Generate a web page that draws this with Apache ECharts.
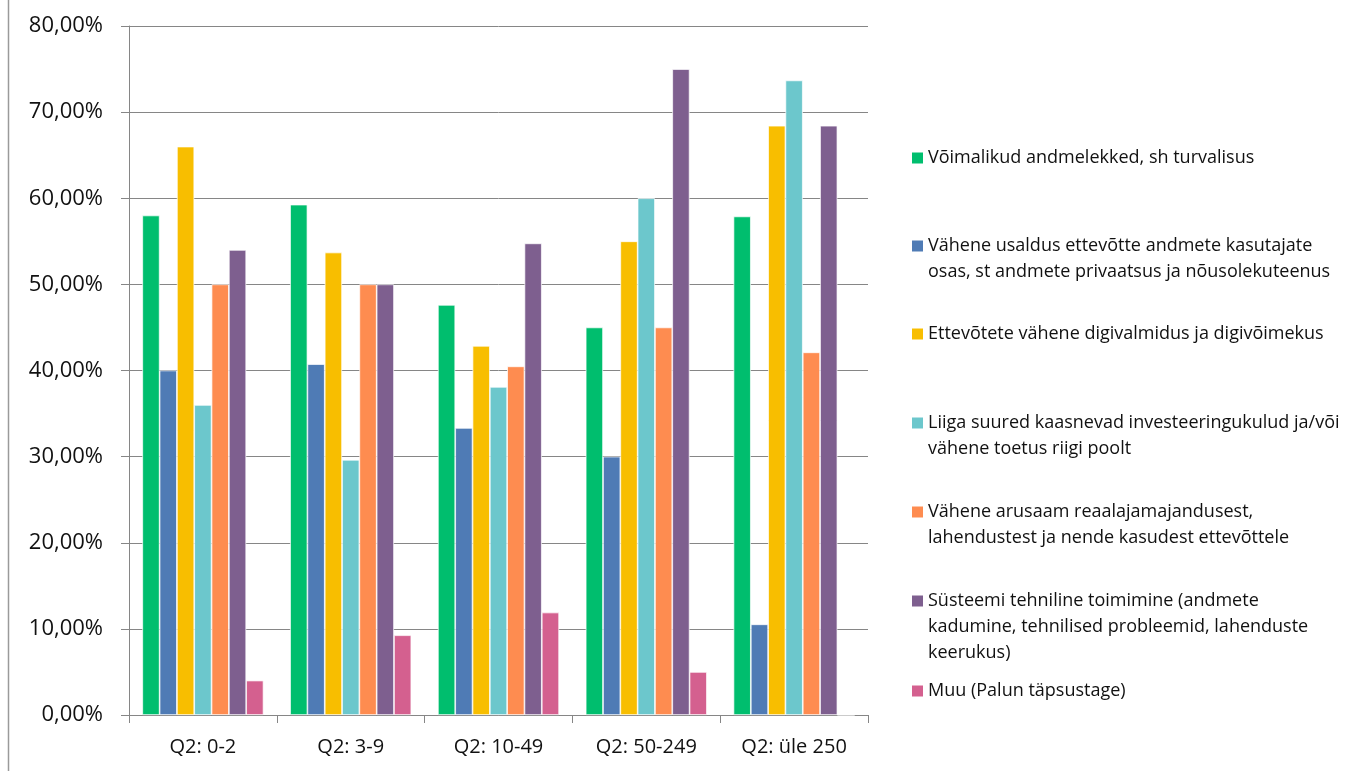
<!DOCTYPE html>
<html>
<head>
<meta charset="utf-8">
<script src="https://cdn.jsdelivr.net/npm/echarts@6/dist/echarts.min.js"></script>
<style>
html,body{margin:0;padding:0;background:#fff;}
#chart{width:1363px;height:771px;}
</style>
</head>
<body>
<div id="chart"></div>
<script>
const categories = ['Q2: 0-2', 'Q2: 3-9', 'Q2: 10-49', 'Q2: 50-249', 'Q2: üle 250'];
const seriesNames = [
  'Võimalikud andmelekked, sh turvalisus',
  'Vähene usaldus ettevõtte andmete kasutajate\nosas, st andmete privaatsus ja nõusolekuteenus',
  'Ettevõtete vähene digivalmidus ja digivõimekus',
  'Liiga suured kaasnevad investeeringukulud ja/või\nvähene toetus riigi poolt',
  'Vähene arusaam reaalajamajandusest,\nlahendustest ja nende kasudest ettevõttele',
  'Süsteemi tehniline toimimine (andmete\nkadumine, tehnilised probleemid, lahenduste\nkeerukus)',
  'Muu (Palun täpsustage)'
];
const andmelekked   = [58.0, 59.26, 47.62, 45.0, 57.89];
const usaldus       = [40.0, 40.74, 33.33, 30.0, 10.53];
const digivalmidus  = [66.0, 53.70, 42.86, 55.0, 68.42];
const investeering  = [36.0, 29.63, 38.10, 60.0, 73.68];
const arusaam       = [50.0, 50.0, 40.48, 45.0, 42.11];
const tehniline     = [54.0, 50.0, 54.76, 75.0, 68.42];
const muu           = [4.0, 9.26, 11.90, 5.0, 0];
const yTicks = [0, 10, 20, 30, 40, 50, 60, 70, 80];

const seriesValues = [andmelekked, usaldus, digivalmidus, investeering, arusaam, tehniline, muu];
const colors = ['#00BE6E', '#4F7BB5', '#F8BE00', '#6CC7CC', '#FE8C50', '#7E5F8F', '#D4608F'];
const legendCenters = [153, 241, 329, 418, 507, 596, 686];
const LH = 26;

const chart = echarts.init(document.getElementById('chart'), null, {renderer: 'canvas'});

const legends = seriesNames.map((name, i) => {
  const n = name.split('\n').length;
  const H = n * LH;
  return {
    data: [name],
    left: 907,
    top: legendCenters[i] - LH / 2,
    orient: 'vertical',
    itemWidth: 11,
    itemHeight: H,
    selectedMode: false,
    icon: `path://M0,7.5h11v11h-11Z M0,0L0,0 M11,${H}L11,${H}`,
    itemStyle: {borderWidth: 0},
    textStyle: {fontFamily: 'Open Sans', fontSize: 18, lineHeight: LH, color: '#111'}
  };
});

const option = {
  backgroundColor: '#fff',
  animation: false,
  color: colors,
  grid: {left: 129, right: 495, top: 26, bottom: 56, containLabel: false},
  legend: legends,
  graphic: [{
    type: 'line', shape: {x1: 8.5, y1: 0, x2: 8.5, y2: 771},
    style: {stroke: '#9a9a9a', lineWidth: 1.5}
  }],
  xAxis: {
    type: 'category',
    data: categories,
    axisLine: {lineStyle: {color: '#868686', width: 1}},
    axisTick: {show: true, length: 8, inside: false, alignWithLabel: false, lineStyle: {color: '#868686'}},
    axisLabel: {margin: 22, fontFamily: 'Open Sans', fontSize: 20, color: '#111'}
  },
  yAxis: {
    type: 'value',
    min: 0, max: 80, interval: 10,
    axisLine: {show: true, lineStyle: {color: '#868686', width: 1}},
    axisTick: {show: true, length: 8, lineStyle: {color: '#868686'}},
    splitLine: {show: true, lineStyle: {color: '#868686', width: 1}},
    axisLabel: {
      margin: 26, fontFamily: 'Open Sans', fontSize: 22, color: '#111',
      formatter: v => yTicks.includes(v) ? v.toFixed(2).replace('.', ',') + '%' : ''
    }
  },
  series: seriesNames.map((name, i) => ({
    name: name,
    type: 'bar',
    data: seriesValues[i],
    barGap: '0%',
    barCategoryGap: '18%',
    itemStyle: {color: colors[i], borderColor: '#ffffff', borderWidth: 0.7}
  }))
};
chart.setOption(option);
</script>
</body>
</html>
